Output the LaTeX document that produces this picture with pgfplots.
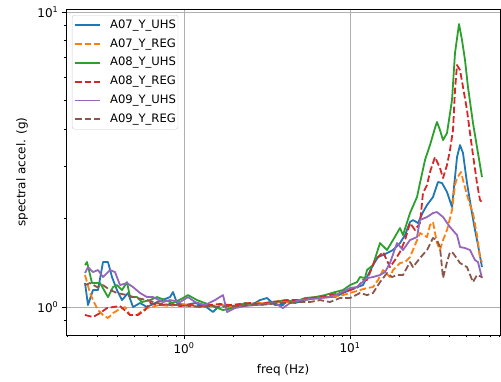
\documentclass[border=0pt]{standalone}
\usepackage{fontspec}
\setmainfont{DejaVu Sans}
\usepackage{pgfplots}
\pgfplotsset{compat=1.18}
\definecolor{C0}{RGB}{31,119,180}
\definecolor{C1}{RGB}{255,127,14}
\definecolor{C2}{RGB}{44,160,44}
\definecolor{C3}{RGB}{214,39,40}
\definecolor{C4}{RGB}{148,103,189}
\definecolor{C5}{RGB}{140,86,75}
\definecolor{gridc}{RGB}{176,176,176}
\definecolor{legc}{RGB}{204,204,204}
\begin{document}
\begin{tikzpicture}
\begin{axis}[
  scale only axis, width=434pt, height=325.5pt,
  xmode=log, ymode=log,
  xmin=0.1946, xmax=80.1, ymin=0.804, ymax=10.2,
  xtick={1,10}, xticklabels={10\textsuperscript{0},10\textsuperscript{1}},
  ytick={1,10}, yticklabels={10\textsuperscript{0},10\textsuperscript{1}},
  minor xtick={0.2,0.3,0.4,0.5,0.6,0.7,0.8,0.9,2,3,4,5,6,7,8,9,20,30,40,50,60,70,80},
  minor ytick={0.9,2,3,4,5,6,7,8,9},
  xmajorgrids, ymajorgrids,
  major grid style={gridc, line width=0.96pt},
  tick align=outside, tick pos=left,
  major tick length=4.2pt, minor tick length=2.4pt,
  every tick/.style={black, line width=0.96pt},
  axis line style={line width=0.96pt},
  tick label style={font=\fontsize{12}{14}\selectfont},
  xlabel={freq (Hz)}, ylabel={spectral accel. (g)},
  label style={font=\fontsize{12}{14}\selectfont},
  xlabel style={at={(axis description cs:0.5,-0.1075)}, anchor=center},
  ylabel style={at={(axis description cs:-0.1014,0.5)}, anchor=center},
  legend cell align=left,
  legend style={at={(0.0138,0.983)}, anchor=north west,
    draw=legc, fill=white, fill opacity=0.8, text opacity=1,
    rounded corners=2.4pt, font=\fontsize{11.6}{14}\selectfont,
    inner xsep=2pt, inner ysep=4pt, row sep=6.8pt, column sep=0pt,
    nodes={inner sep=0pt, text height=9pt, text depth=3pt}},
  legend image code/.code={\draw[#1, line width=1.8pt, rounded corners=0pt, fill=none] (0pt,0pt) -- (25pt,0pt); \path[draw=none, fill=none] (25pt,0pt) -- (35pt,0pt);},
  every axis plot/.append style={line width=1.8pt, line join=round},
]
\addplot[C0] coordinates {
(0.2533,1.206) (0.2640,1.016) (0.2830,1.142) (0.3033,1.142) (0.3251,1.421) (0.3484,1.421)
(0.3683,1.264) (0.3948,1.142) (0.4231,1.056) (0.4599,1.116) (0.4930,1.000) (0.5432,1.032)
(0.5985,1.000) (0.6876,1.040) (0.8235,1.081) (0.8585,1.124) (0.9075,1.032) (1.014,1.016)
(1.165,1.032) (1.338,1.008) (1.495,0.962) (1.648,1.016) (1.973,1.000) (2.331,1.016)
(2.678,1.032) (2.870,1.056) (3.162,1.073) (3.533,1.016) (3.948,1.016) (4.174,1.056)
(4.665,1.032) (5.357,1.056) (6.153,1.073) (7.069,1.081) (8.121,1.081) (9.075,1.116)
(10.0,1.142) (11.02,1.169) (11.98,1.187) (12.66,1.264) (13.76,1.388) (14.75,1.477)
(15.81,1.501) (16.71,1.524) (18.16,1.561) (20.01,1.648) (21.45,1.754) (22.99,1.942)
(23.96,1.972) (25.68,1.927) (27.53,2.099) (29.10,2.217) (31.62,2.360) (33.89,2.653)
(35.84,2.633) (38.41,2.454) (41.17,2.183) (44.13,3.224) (46.00,3.541) (47.95,3.327)
(50.68,2.633) (54.32,2.083) (56.62,1.824) (59.03,1.623) (62.39,1.366)
};
\addlegendentry{A07\_Y\_UHS}
\addplot[C1, dash pattern=on 6.66pt off 2.88pt] coordinates {
(0.2533,1.284) (0.2715,1.116) (0.2830,1.056) (0.3033,0.977) (0.3251,0.940) (0.3484,0.918)
(0.3734,0.954) (0.4003,0.977) (0.4411,1.000) (0.4728,0.940) (0.5211,0.940) (0.5662,0.977)
(0.6240,1.000) (0.7168,1.016) (0.8235,1.008) (0.9460,1.024) (1.087,1.016) (1.248,1.000)
(1.434,1.008) (1.648,1.016) (1.893,1.008) (2.175,1.016) (2.498,1.024) (2.870,1.032)
(3.297,1.024) (3.787,1.040) (4.351,1.040) (4.999,1.056) (5.741,1.064) (6.596,1.073)
(7.576,1.081) (8.705,1.090) (10.0,1.116) (11.49,1.142) (12.66,1.160) (13.76,1.169)
(14.75,1.235) (15.81,1.335) (17.42,1.264) (18.16,1.335) (20.01,1.410) (21.45,1.421)
(22.99,1.477) (24.64,1.623) (26.40,1.782) (29.10,1.727) (30.34,1.897) (31.62,1.942)
(33.43,1.648) (34.84,1.561) (36.34,1.687) (38.41,1.824) (41.17,2.133) (42.91,2.592)
(44.13,2.737) (46.65,2.869) (47.95,2.694) (50.68,2.397) (52.84,2.217) (55.08,2.083)
(58.21,1.754) (60.68,1.477) (62.39,1.421)
};
\addlegendentry{A07\_Y\_REG}
\addplot[C2] coordinates {
(0.2533,1.388) (0.2604,1.421) (0.2791,1.206) (0.3119,1.206) (0.3484,1.081) (0.3734,1.169)
(0.3948,1.187) (0.4231,1.142) (0.4535,1.215) (0.4728,1.081) (0.5211,1.081) (0.5585,1.040)
(0.6240,1.056) (0.6876,1.081) (0.7683,1.056) (0.8585,1.032) (0.9862,1.073) (1.057,1.098)
(1.198,1.056) (1.434,1.016) (1.718,0.977) (1.973,0.992) (2.331,1.032) (2.678,1.016)
(3.076,1.024) (3.533,1.040) (4.058,1.056) (4.665,1.040) (5.357,1.073) (6.153,1.081)
(7.069,1.098) (8.121,1.124) (9.075,1.142) (10.0,1.187) (11.02,1.215) (11.49,1.264)
(12.31,1.254) (12.66,1.335) (13.76,1.388) (15.16,1.648) (16.71,1.561) (18.16,1.687)
(20.01,1.853) (20.86,1.754) (22.99,2.083) (25.33,2.360) (26.40,2.633) (28.30,3.149)
(30.34,3.541) (32.51,4.045) (33.43,4.238) (34.84,3.981) (36.34,3.683) (38.41,3.889)
(41.17,5.032) (42.91,7.261) (45.37,9.107) (47.29,8.036) (49.30,6.875) (51.37,5.570)
(55.08,4.205) (58.21,3.486) (62.39,2.759)
};
\addlegendentry{A08\_Y\_UHS}
\addplot[C3, dash pattern=on 6.66pt off 2.88pt] coordinates {
(0.2533,0.940) (0.2830,0.925) (0.3119,0.954) (0.3436,0.992) (0.3734,1.000) (0.4116,1.008)
(0.4728,0.940) (0.5284,0.940) (0.5822,0.977) (0.6240,1.032) (0.7168,1.016) (0.8235,1.024)
(0.9460,1.008) (1.087,1.016) (1.248,1.008) (1.434,1.016) (1.648,1.024) (1.893,1.016)
(2.175,1.024) (2.498,1.032) (2.870,1.024) (3.297,1.040) (3.787,1.048) (4.351,1.056)
(4.999,1.056) (5.741,1.073) (6.596,1.081) (7.576,1.098) (8.705,1.116) (10.0,1.142)
(11.02,1.160) (11.98,1.235) (12.66,1.235) (14.15,1.443) (15.81,1.537) (17.42,1.366)
(18.67,1.443) (20.01,1.537) (21.45,1.687) (22.99,1.927) (24.64,1.824) (26.40,1.927)
(27.53,2.435) (29.10,2.592) (30.34,2.869) (32.51,3.224) (34.84,2.959) (36.34,2.737)
(38.41,3.029) (40.04,3.406) (41.74,3.981) (42.91,5.440) (44.13,6.612) (46.00,6.359)
(47.95,5.570) (50.68,4.654) (52.84,3.889) (55.08,3.275) (58.21,2.633) (60.68,2.306)
(62.39,2.270)
};
\addlegendentry{A08\_Y\_REG}
\addplot[C4] coordinates {
(0.2533,1.304) (0.2640,1.366) (0.2830,1.314) (0.3033,1.335) (0.3251,1.264) (0.3582,1.335)
(0.3839,1.314) (0.4116,1.187) (0.4535,1.206) (0.4930,1.169) (0.5432,1.116) (0.5985,1.081)
(0.6505,1.081) (0.7473,1.040) (0.8235,1.056) (0.9460,1.040) (1.057,1.081) (1.165,1.040)
(1.338,1.016) (1.537,1.056) (1.718,1.098) (1.816,0.962) (2.029,0.992) (2.331,1.008)
(2.678,1.016) (3.076,1.024) (3.533,1.032) (3.948,0.992) (4.351,1.032) (4.999,1.056)
(5.741,1.064) (6.596,1.073) (7.576,1.081) (8.705,1.116) (10.0,1.160) (11.02,1.169)
(12.66,1.254) (13.76,1.264) (15.16,1.284) (16.25,1.314) (17.42,1.410) (19.19,1.648)
(20.86,1.561) (22.99,1.687) (25.33,1.727) (26.40,1.972) (29.10,2.019) (31.62,2.083)
(33.43,2.099) (36.34,2.019) (40.04,1.867) (44.13,1.754) (46.00,1.598) (49.30,1.585)
(52.84,1.561) (56.62,1.443) (59.03,1.421) (62.39,1.254)
};
\addlegendentry{A09\_Y\_UHS}
\addplot[C5, dash pattern=on 6.66pt off 2.88pt] coordinates {
(0.2533,1.187) (0.2715,1.206) (0.2991,1.169) (0.3251,1.187) (0.3582,1.142) (0.3948,1.116)
(0.4535,1.098) (0.5211,1.073) (0.5985,1.056) (0.6876,1.032) (0.8235,1.016) (0.9460,1.016)
(1.087,1.008) (1.248,1.000) (1.434,1.008) (1.648,1.000) (1.893,1.008) (2.175,1.008)
(2.498,1.016) (2.870,1.016) (3.297,1.024) (3.787,1.032) (4.351,1.032) (4.999,1.040)
(5.741,1.040) (6.596,1.056) (7.576,1.040) (8.705,1.073) (10.0,1.073) (11.49,1.116)
(12.66,1.098) (13.76,1.116) (15.16,1.215) (16.71,1.304) (17.91,1.264) (19.19,1.284)
(20.86,1.284) (22.99,1.421) (23.96,1.366) (26.40,1.466) (29.10,1.561) (31.62,1.714)
(33.43,1.687) (34.84,1.598) (36.34,1.254) (38.41,1.421) (40.04,1.537) (41.74,1.524)
(46.00,1.410) (50.68,1.366) (55.08,1.215) (58.21,1.284) (62.39,1.264)
};
\addlegendentry{A09\_Y\_REG}
\end{axis}
\pgfresetboundingbox
\path[use as bounding box] (-66pt,-46pt) rectangle (435pt,335pt);
\end{tikzpicture}
\end{document}
